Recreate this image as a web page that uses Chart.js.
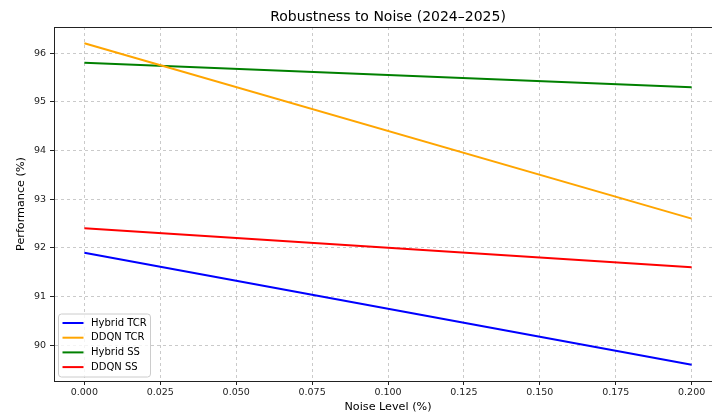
<!DOCTYPE html>
<html>
<head>
<meta charset="utf-8">
<script src="https://cdn.jsdelivr.net/npm/chart.js@4.4.1/dist/chart.umd.min.js"></script>
<style>
  html, body { margin: 0; padding: 0; overflow: hidden; background: #fff; }
  #wrap { width: 730px; height: 414px; }
</style>
</head>
<body>
<div id="wrap"><canvas id="chart"></canvas></div>
<script>
// Values
const noiseLevels = [0.0, 0.2];
const hybridTcr = [91.9, 89.6];
const ddqnTcr = [96.2, 92.6];
const hybridSs = [95.8, 95.3];
const ddqnSs = [92.4, 91.6];

const xTicks = [0, 0.025, 0.05, 0.075, 0.1, 0.125, 0.15, 0.175, 0.2];
const yTicks = [90, 91, 92, 93, 94, 95, 96];

const FONT = "'DejaVu Sans', sans-serif";

const toPoints = (ys) => noiseLevels.map((x, i) => ({ x, y: ys[i] }));

const series = [
  { label: 'Hybrid TCR', values: hybridTcr, color: '#0000ff' },
  { label: 'DDQN TCR', values: ddqnTcr, color: '#ffa500' },
  { label: 'Hybrid SS', values: hybridSs, color: '#008000' },
  { label: 'DDQN SS', values: ddqnSs, color: '#ff0000' },
];

// Title centred over the plot area, like matplotlib
const titlePlugin = {
  id: 'axesTitle',
  afterDraw(chart) {
    const { ctx, chartArea } = chart;
    ctx.save();
    ctx.font = `14px ${FONT}`;
    ctx.fillStyle = '#000';
    ctx.textAlign = 'center';
    ctx.textBaseline = 'middle';
    ctx.fillText('Robustness to Noise (2024–2025)', (chartArea.left + chartArea.right) / 2, 17);
    ctx.restore();
  },
};

// Frame on all four sides
const framePlugin = {
  id: 'frame',
  afterDatasetsDraw(chart) {
    const { ctx, chartArea: a } = chart;
    ctx.save();
    ctx.strokeStyle = '#222';
    ctx.lineWidth = 1;
    ctx.strokeRect(Math.round(a.left) + 0.5, Math.round(a.top) + 0.5,
      Math.round(a.right - a.left), Math.round(a.bottom - a.top));
    ctx.restore();
  },
};

// Legend inside the lower-left corner
const innerLegend = {
  id: 'innerLegend',
  afterDraw(chart) {
    const { ctx, chartArea: a } = chart;
    const x = a.left + 4.5, w = 92, h = 63;
    const y = a.bottom - 4 - h;
    ctx.save();
    ctx.beginPath();
    ctx.roundRect(x, y, w, h, 3);
    ctx.fillStyle = 'rgba(255,255,255,0.8)';
    ctx.fill();
    ctx.strokeStyle = '#cccccc';
    ctx.lineWidth = 1;
    ctx.stroke();
    ctx.font = `10px ${FONT}`;
    ctx.textBaseline = 'middle';
    ctx.fillStyle = '#000';
    chart.data.datasets.forEach((ds, i) => {
      const cy = y + 9 + i * 14.7;
      ctx.beginPath();
      ctx.moveTo(x + 4, cy);
      ctx.lineTo(x + 25, cy);
      ctx.strokeStyle = ds.borderColor;
      ctx.lineWidth = 2;
      ctx.stroke();
      ctx.fillText(ds.label, x + 32.5, cy);
    });
    ctx.restore();
  },
};

new Chart(document.getElementById('chart'), {
  type: 'line',
  data: {
    datasets: series.map((s) => ({
      label: s.label,
      data: toPoints(s.values),
      borderColor: s.color,
      backgroundColor: s.color,
      borderWidth: 2,
      pointRadius: 0,
      tension: 0,
    })),
  },
  options: {
    responsive: true,
    maintainAspectRatio: false,
    animation: false,
    layout: { padding: { top: 27, right: 8, bottom: 0, left: 0 } },
    plugins: {
      legend: { display: false },
      title: { display: false },
      tooltip: { enabled: false },
    },
    scales: {
      x: {
        type: 'linear',
        min: -0.01,
        max: 0.21,
        afterBuildTicks: (scale) => { scale.ticks = xTicks.map((v) => ({ value: v })); },
        afterFit: (scale) => { scale.height = 33; },
        ticks: {
          callback: (v) => Number(v).toFixed(3),
          font: { family: FONT, size: 9.5 },
          color: '#222',
          padding: 2,
          maxRotation: 0,
          autoSkip: false,
        },
        grid: {
          color: 'rgba(180,180,180,0.7)',
          drawTicks: true,
          tickLength: 4,
          tickColor: '#222',
          tickBorderDash: [],
        },
        border: { display: true, color: '#222', dash: [3, 3] },
        title: {
          display: true,
          text: 'Noise Level (%)',
          font: { family: FONT, size: 11.2 },
          color: '#000',
          padding: { top: 0, bottom: 0 },
        },
      },
      y: {
        type: 'linear',
        min: 89.265,
        max: 96.535,
        afterBuildTicks: (scale) => { scale.ticks = yTicks.map((v) => ({ value: v })); },
        afterFit: (scale) => { scale.width = 54; },
        ticks: {
          callback: (v) => String(v),
          font: { family: FONT, size: 9.5 },
          color: '#222',
          padding: 4,
        },
        grid: {
          color: 'rgba(180,180,180,0.7)',
          drawTicks: true,
          tickLength: 4,
          tickColor: '#222',
          tickBorderDash: [],
        },
        border: { display: true, color: '#222', dash: [3, 3] },
        title: {
          display: true,
          text: 'Performance (%)',
          font: { family: FONT, size: 11.2 },
          color: '#000',
          padding: { top: 14, bottom: 0 },
        },
      },
    },
  },
  plugins: [titlePlugin, framePlugin, innerLegend],
});
</script>
</body>
</html>
